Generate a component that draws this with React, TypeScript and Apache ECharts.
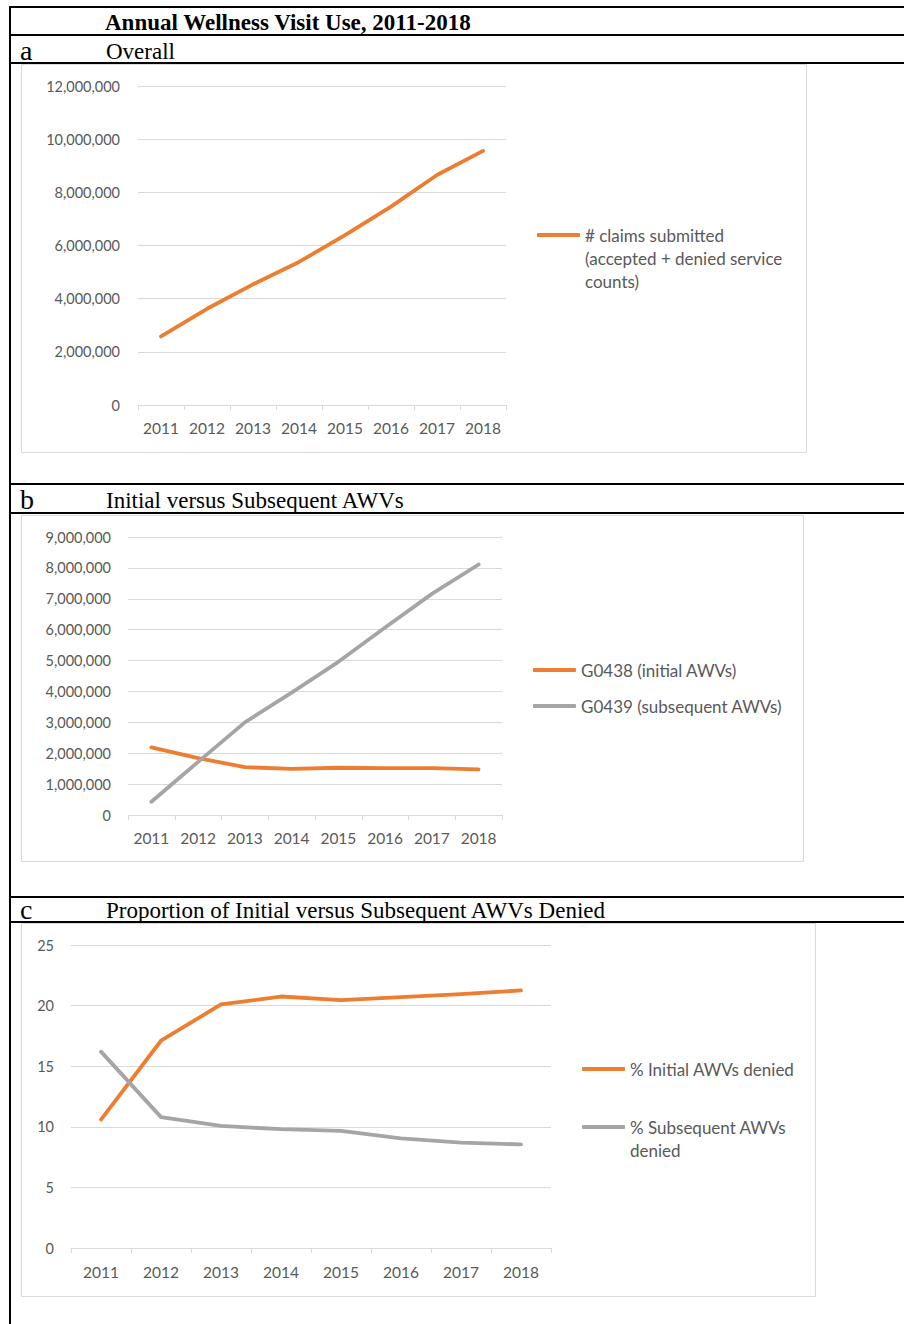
import React, { useEffect, useRef } from "react";
import * as echarts from "echarts";

const years = ["2011", "2012", "2013", "2014", "2015", "2016", "2017", "2018"];
const claimsSubmitted = [2580000, 3620000, 4540000, 5380000, 6390000, 7460000, 8650000, 9560000];
const initialAWVs = [2190000, 1840000, 1550000, 1490000, 1530000, 1520000, 1520000, 1480000];
const subsequentAWVs = [430000, 1720000, 3000000, 3960000, 4960000, 6070000, 7160000, 8110000];
const pctInitialDenied = [10.6, 17.1, 20.1, 20.75, 20.45, 20.7, 20.95, 21.25];
const pctSubsequentDenied = [16.2, 10.8, 10.07, 9.8, 9.66, 9.05, 8.69, 8.55];

const NAME_A = "# claims submitted (accepted + denied service counts)";
const NAME_B1 = "G0438 (initial AWVs)";
const NAME_B2 = "G0439 (subsequent AWVs)";
const NAME_C1 = "% Initial AWVs denied";
const NAME_C2 = "% Subsequent AWVs denied";

const ORANGE = "#ED7D31";
const GRAY = "#A5A5A5";
const TXT = "#595959";
const GRID = "#D9D9D9";
const SANS = "Lato, 'Open Sans', sans-serif";
const SERIF = "'Liberation Serif', 'Times New Roman', serif";

export default function App() {
  const ref = useRef<HTMLDivElement>(null);
  useEffect(() => {
    if (!ref.current) return;
    const chart = echarts.init(ref.current, undefined, { renderer: "svg" });

    const xAxisBase = (gridIndex: number, margin: number) => ({
      type: "category",
      gridIndex,
      data: years,
      boundaryGap: true,
      axisLine: { show: true, lineStyle: { color: GRID, width: 1 } },
      axisTick: { show: true, length: 5, lineStyle: { color: GRID } },
      axisLabel: {
        color: TXT,
        fontFamily: SANS,
        fontSize: 15.5,
        margin,
        interval: 0,
        hideOverlap: false,
      },
      splitLine: { show: false },
    });
    const yAxisBase = (gridIndex: number, max: number, interval: number, margin: number, commas: boolean) => ({
      type: "value",
      gridIndex,
      min: 0,
      max,
      interval,
      axisLine: { show: false },
      axisTick: { show: false },
      axisLabel: {
        color: TXT,
        fontFamily: SANS,
        fontSize: 14.5,
        margin,
        formatter: (v: number) => (commas ? v.toLocaleString("en-US") : String(v)),
      },
      splitLine: { show: true, lineStyle: { color: GRID, width: 1 } },
    });
    const lineSeries = (name: string, data: number[], color: string, idx: number) => ({
      type: "line",
      name,
      data,
      xAxisIndex: idx,
      yAxisIndex: idx,
      symbol: "none",
      smooth: false,
      color,
      lineStyle: { color, width: 3.8, cap: "round", join: "round" },
      z: 5,
    });
    const legendBase = (names: string[], left: number, top: number, gap: number, fmt?: (n: string) => string) => ({
      data: names,
      orient: "vertical",
      left,
      top,
      padding: 0,
      itemGap: gap,
      itemWidth: 43,
      itemHeight: 4,
      icon: "roundRect",
      selectedMode: false,
      formatter: fmt,
      textStyle: { color: TXT, fontFamily: SANS, fontSize: 17, lineHeight: 23 },
    });

    const hline = (x1: number, x2: number, y: number) => ({
      type: "line",
      shape: { x1, y1: y, x2, y2: y },
      style: { stroke: "#000", lineWidth: 2 },
      z: 10,
    });
    const box = (x: number, y: number, w: number, h: number) => ({
      type: "rect",
      shape: { x, y, width: w, height: h },
      style: { fill: "#fff", stroke: GRID, lineWidth: 1 },
      z: -10,
    });
    const serifText = (text: string, x: number, y: number, size: number, bold = false) => ({
      type: "text",
      x,
      y,
      style: {
        text,
        fill: "#000",
        font: `${bold ? "bold " : ""}${size}px ${SERIF}`,
        verticalAlign: "middle",
        align: "left",
      },
      z: 10,
    });

    const option: any = {
      animation: false,
      backgroundColor: "#fff",
      graphic: [
        hline(9, 904, 7),
        hline(9, 904, 35),
        hline(9, 904, 63),
        hline(9, 904, 484),
        hline(9, 904, 513),
        hline(9, 904, 897),
        hline(9, 904, 922),
        {
          type: "line",
          shape: { x1: 10, y1: 6, x2: 10, y2: 1324 },
          style: { stroke: "#000", lineWidth: 2 },
          z: 10,
        },
        box(21.5, 64.5, 785, 388),
        box(21.5, 515.5, 782, 346),
        box(21.5, 923.5, 794, 373),
        serifText("Annual Wellness Visit Use, 2011-2018", 105, 22, 23, true),
        serifText("a", 20, 50, 28),
        serifText("Overall", 106, 51, 23),
        serifText("b", 20, 499, 28),
        serifText("Initial versus Subsequent AWVs", 106, 500, 23),
        serifText("c", 20, 909, 28),
        serifText("Proportion of Initial versus Subsequent AWVs Denied", 106, 910, 23),
      ],
      grid: [
        { left: 138, top: 86, width: 368, height: 319 },
        { left: 128, top: 537, width: 374, height: 278 },
        { left: 71, top: 945, width: 480, height: 303 },
      ],
      xAxis: [xAxisBase(0, 15), xAxisBase(1, 15), xAxisBase(2, 16)],
      yAxis: [
        yAxisBase(0, 12000000, 2000000, 18, true),
        yAxisBase(1, 9000000, 1000000, 17, true),
        yAxisBase(2, 25, 5, 17, false),
      ],
      legend: [
        legendBase([NAME_A], 537, 235 - 57.5, 10, () =>
          "\n\n# claims submitted\n(accepted + denied service\ncounts)"
        ),
        legendBase([NAME_B1, NAME_B2], 533, 670 - 11.5, 36 - 23),
        legendBase([NAME_C1], 582, 1069 - 11.5, 10),
        legendBase([NAME_C2], 582, 1127 - 34.5, 10, () => "\n% Subsequent AWVs\ndenied"),
      ],
      series: [
        lineSeries(NAME_A, claimsSubmitted, ORANGE, 0),
        lineSeries(NAME_B1, initialAWVs, ORANGE, 1),
        lineSeries(NAME_B2, subsequentAWVs, GRAY, 1),
        lineSeries(NAME_C1, pctInitialDenied, ORANGE, 2),
        lineSeries(NAME_C2, pctSubsequentDenied, GRAY, 2),
      ],
    };

    chart.setOption(option);
    return () => chart.dispose();
  }, []);

  return (
    <div
      ref={ref}
      style={{ position: "absolute", left: 0, top: 0, width: 904, height: 1324, background: "#fff" }}
    />
  );
}
